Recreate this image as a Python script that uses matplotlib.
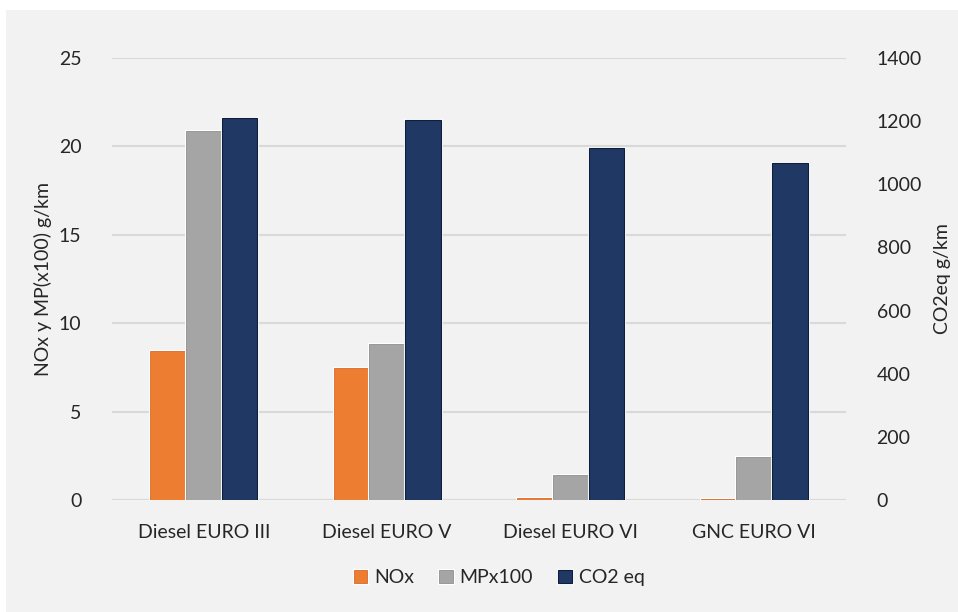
import numpy as np
import matplotlib
matplotlib.use("Agg")
import matplotlib.pyplot as plt
from matplotlib.patches import Rectangle
import matplotlib.patheffects as pe

plt.rcParams['font.family'] = ['Lato', 'DejaVu Sans']

# emisiones por tecnologia de bus
categorias = ["Diesel EURO III", "Diesel EURO V", "Diesel EURO VI", "GNC EURO VI"]
nox = [8.43, 7.45, 0.13, 0.07]
mp_x100 = [20.85, 8.85, 1.4, 2.45]
co2_eq = [1210, 1205, 1116, 1067]

c_nox = "#ed7d31"
c_mp = "#a5a5a5"
c_co2 = "#203864"
fondo = "#f2f2f2"
texto = "#262626"
fs = 14

fig = plt.figure(figsize=(9.58, 6.12), dpi=100, facecolor="white")
fig.patches.append(Rectangle((6 / 958, 0), 1, 1 - 10 / 612, transform=fig.transFigure,
                             facecolor=fondo, edgecolor="none", zorder=-10))

ax = fig.add_axes([0.1169, 0.183, 0.7662, 0.7222])
ax2 = ax.twinx()
for a in (ax, ax2):
    a.set_facecolor("none")
    for s in a.spines.values():
        s.set_visible(False)

x = np.arange(len(categorias))
w = 0.194
halo = [pe.Stroke(linewidth=2.2, foreground="white"), pe.Normal()]

b1 = ax.bar(x - w, nox, w, color=c_nox, edgecolor="#d9692a", linewidth=0.6, label="NOx", zorder=3)
b2 = ax.bar(x, mp_x100, w, color=c_mp, edgecolor="#8f8f8f", linewidth=0.6, label="MPx100", zorder=3)
b3 = ax2.bar(x + w, co2_eq, w, color=c_co2, edgecolor="#0f1e3d", linewidth=0.8, label="CO2 eq", zorder=3)
for bars in (b1, b2, b3):
    for r in bars:
        r.set_path_effects(halo)

ax.set_xlim(-0.5, len(categorias) - 0.5)
ax.set_ylim(0, 25)
ax2.set_ylim(0, 1400)
ax.set_yticks(np.arange(0, 26, 5))
ax2.set_yticks(np.arange(0, 1401, 200))
ax.yaxis.grid(True, color="#d9d9d9", linewidth=1.5, zorder=0)
ax.set_axisbelow(True)

ax.set_xticks(x)
ax.set_xticklabels(categorias)
ax.tick_params(axis="x", length=0, pad=17, labelsize=fs, labelcolor=texto)
ax.tick_params(axis="y", length=0, pad=22, labelsize=fs, labelcolor=texto)
ax2.tick_params(axis="y", length=0, pad=22, labelsize=fs, labelcolor=texto)

ax.set_ylabel("NOx y MP(x100) g/km", fontsize=fs, color=texto, labelpad=5)
ax2.set_ylabel("CO2eq g/km", fontsize=fs, color=texto, labelpad=9)

fig.legend(handles=[b1, b2, b3], labels=["NOx", "MPx100", "CO2 eq"],
           loc="center", bbox_to_anchor=(0.521, 0.056), ncol=3, frameon=False,
           fontsize=fs, handlelength=0.7, handleheight=0.7, handletextpad=0.35,
           columnspacing=1.3, labelcolor=texto)

fig.savefig("out.png", dpi=100, facecolor=fig.get_facecolor())
